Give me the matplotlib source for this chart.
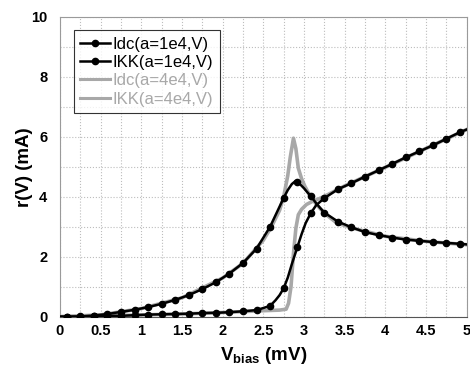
import matplotlib
matplotlib.use("Agg")
import matplotlib.pyplot as plt
from matplotlib.lines import Line2D
from matplotlib.ticker import MultipleLocator

plt.rcParams["font.family"] = ["Liberation Sans", "DejaVu Sans"]
plt.rcParams["mathtext.fontset"] = "custom"
plt.rcParams["mathtext.bf"] = "Liberation Sans:bold"
plt.rcParams["mathtext.rm"] = "Liberation Sans:bold"

# marker positions (mV) and values (mA) for a=1e4
v_mark = [0.083, 0.25, 0.417, 0.583, 0.75, 0.917, 1.083, 1.25, 1.417, 1.583,
          1.75, 1.917, 2.083, 2.25, 2.417, 2.583, 2.75, 2.917, 3.083, 3.25,
          3.417, 3.583, 3.75, 3.917, 4.083, 4.25, 4.417, 4.583, 4.75, 4.917]
idc1 = [0.00, 0.00, 0.01, 0.03, 0.03, 0.05, 0.07, 0.08, 0.09, 0.10,
        0.12, 0.13, 0.15, 0.18, 0.22, 0.36, 0.95, 2.31, 3.45, 3.95,
        4.25, 4.45, 4.67, 4.88, 5.09, 5.31, 5.51, 5.71, 5.93, 6.15]
ikk1 = [0.00, 0.01, 0.04, 0.09, 0.16, 0.23, 0.32, 0.43, 0.56, 0.72,
        0.92, 1.15, 1.44, 1.79, 2.27, 3.00, 3.96, 4.48, 4.02, 3.47,
        3.17, 2.98, 2.82, 2.72, 2.64, 2.57, 2.53, 2.49, 2.46, 2.43]

# extra points read along the black curves where they bend sharply
v_idc1_extra = [0.0, 2.65, 2.70, 2.80, 2.85, 2.97, 3.02, 3.15, 5.0]
idc1_extra = [0.0, 0.55, 0.72, 1.30, 1.75, 2.75, 3.12, 3.72, 6.24]
v_ikk1_extra = [0.0, 2.80, 2.85, 2.89, 2.95, 3.00, 3.04, 3.15, 3.20, 5.0]
ikk1_extra = [0.0, 4.22, 4.42, 4.51, 4.42, 4.28, 4.15, 3.78, 3.62, 2.41]

# a=4e4 curves (no markers)
v_idc4 = [0.0, 0.5, 1.0, 1.5, 2.0, 2.5, 2.70, 2.78, 2.81, 2.84, 2.87, 2.90,
          2.93, 2.97, 3.03, 3.10, 3.20, 3.30, 3.50, 4.0, 4.5, 5.0]
idc4 = [0.0, 0.02, 0.06, 0.09, 0.14, 0.20, 0.22, 0.25, 0.45, 1.00, 2.10, 2.95,
        3.40, 3.58, 3.74, 3.84, 3.95, 4.08, 4.36, 4.98, 5.61, 6.24]
v_ikk4 = [0.0, 0.5, 1.0, 1.5, 2.0, 2.25, 2.5, 2.6, 2.7, 2.75, 2.80, 2.83, 2.87,
          2.90, 2.93, 2.97, 3.01, 3.07, 3.15, 3.25, 3.40, 3.60, 4.0, 4.5, 5.0]
ikk4 = [0.0, 0.06, 0.27, 0.63, 1.29, 1.78, 2.55, 3.00, 3.55, 4.00, 4.70, 5.30, 5.95,
        5.60, 4.95, 4.60, 4.35, 4.05, 3.75, 3.45, 3.13, 2.95, 2.68, 2.51, 2.40]

labels = ["Idc(a=1e4,V)", "IKK(a=1e4,V)", "Idc(a=4e4,V)", "IKK(a=4e4,V)"]
gray = "#a8a8a8"


def merged(v1, y1, v2, y2):
    pts = sorted(zip(list(v1) + list(v2), list(y1) + list(y2)))
    return [p[0] for p in pts], [p[1] for p in pts]


fig = plt.figure(figsize=(4.7, 3.65), dpi=100)
ax = fig.add_axes([60 / 470, 1 - 316.7 / 365, 406.7 / 470, 300 / 365])

ax.plot(v_idc4, idc4, color=gray, lw=2.6, zorder=2)
ax.plot(v_ikk4, ikk4, color=gray, lw=2.6, zorder=2)

vx, vy = merged(v_mark, idc1, v_idc1_extra, idc1_extra)
ax.plot(vx, vy, color="black", lw=1.8, zorder=3)
vx, vy = merged(v_mark, ikk1, v_ikk1_extra, ikk1_extra)
ax.plot(vx, vy, color="black", lw=1.8, zorder=3)
ax.plot(v_mark, idc1, "o", color="black", ms=4.5, zorder=4)
ax.plot(v_mark, ikk1, "o", color="black", ms=4.5, zorder=4)

ax.set_xlim(0, 5)
ax.set_ylim(0, 10)
ax.xaxis.set_minor_locator(MultipleLocator(0.25))
ax.yaxis.set_major_locator(MultipleLocator(2))
ax.yaxis.set_minor_locator(MultipleLocator(1))
ax.set_xticks([0, 0.5, 1, 1.5, 2, 2.5, 3, 3.5, 4, 4.5, 5])
ax.set_xticklabels(["0", "0.5", "1", "1.5", "2", "2.5", "3", "3.5", "4", "4.5", "5"])
ax.grid(True, which="both", color="#bdbdbd", ls=":", lw=0.8)
ax.tick_params(which="both", length=0, labelsize=10.5)
ax.tick_params(axis="y", pad=9)
ax.tick_params(axis="x", pad=5)
for lab in ax.get_xticklabels() + ax.get_yticklabels():
    lab.set_fontweight("bold")
for sp in ax.spines.values():
    sp.set_color("#9a9a9a")
    sp.set_linewidth(0.8)
ax.spines["bottom"].set_color("#555555")

ax.set_ylabel("r(V) (mA)", fontsize=13.5, fontweight="bold")
ax.yaxis.set_label_coords(-0.066, 0.5)
ax.set_xlabel(r"V$_{\mathrm{bias}}$ (mV)", fontsize=13.5, fontweight="bold")
ax.xaxis.set_label_coords(0.5, -0.093)

handles = [
    Line2D([], [], color="black", lw=1.8, marker="o", ms=4.5),
    Line2D([], [], color="black", lw=1.8, marker="o", ms=4.5),
    Line2D([], [], color=gray, lw=2.2),
    Line2D([], [], color=gray, lw=2.2),
]
leg = ax.legend(handles, labels, loc="upper left", bbox_to_anchor=(0.034, 0.956),
                borderaxespad=0, fontsize=12, handlelength=1.8, handletextpad=0.15,
                labelspacing=0.2, borderpad=0.4, frameon=True, fancybox=False,
                numpoints=1)
leg.get_frame().set_edgecolor("black")
leg.get_frame().set_linewidth(0.8)
for i, t in enumerate(leg.get_texts()):
    t.set_color("black" if i < 2 else gray)

fig.savefig("out.png", dpi=100)
